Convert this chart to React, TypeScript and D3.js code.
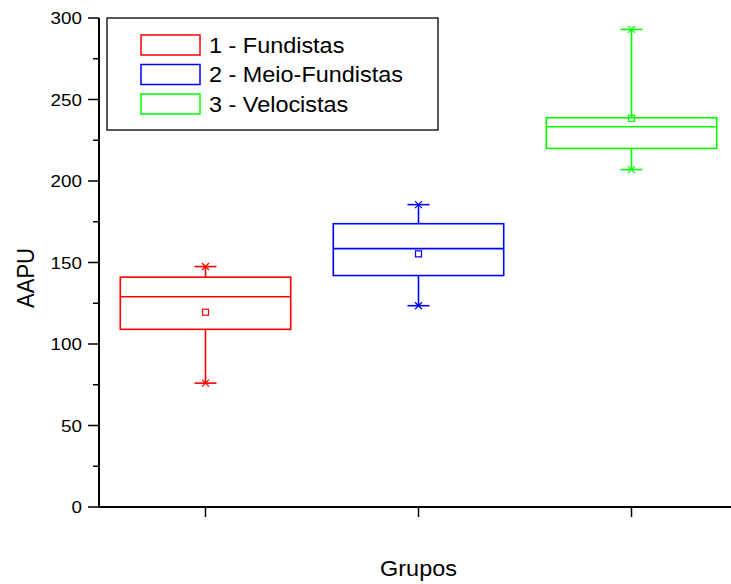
import React from "react";
import * as d3 from "d3";

const groups = ["1 - Fundistas", "2 - Meio-Fundistas", "3 - Velocistas"];
const colors = ["#ff0000", "#0000ff", "#00ff00"];
const q1 = [109, 142, 220];
const medians = [129, 158.5, 233.3];
const q3 = [141, 173.8, 238.8];
const means = [119.5, 155.3, 238.4];
const whiskerLow = [76, 123.5, 207];
const whiskerHigh = [147.5, 185.5, 293];
const yTicks = [0, 50, 100, 150, 200, 250, 300];
const yMinorTicks = [25, 75, 125, 175, 225, 275];

const W = 731;
const H = 584;
const font = "Arial, 'Liberation Sans', sans-serif";
const stretch = 1.09; // the source text is a bit wider than plain Arial

const Cross = ({ x, y, color }: { x: number; y: number; color: string }) => {
  const s = 3.5;
  return (
    <g stroke={color} strokeWidth={1.3}>
      <line x1={x - s} y1={y - s} x2={x + s} y2={y + s} />
      <line x1={x - s} y1={y + s} x2={x + s} y2={y - s} />
    </g>
  );
};

export default function App() {
  const x = d3.scaleLinear().domain([0.5, 3.5]).range([99, 738]);
  const y = d3.scaleLinear().domain([0, 300]).range([507, 18]);
  const step = x(2) - x(1);
  const half = step * 0.4;
  const cap = 11;

  return (
    <svg
      width={W}
      height={H}
      style={{ position: "absolute", left: 0, top: 0, background: "#fff" }}
      fontFamily={font}
    >
      {/* boxes */}
      {groups.map((g, i) => {
        const cx = x(i + 1);
        const c = colors[i];
        return (
          <g key={g} stroke={c} fill="none" strokeWidth={1.6}>
            <line x1={cx} x2={cx} y1={y(whiskerHigh[i])} y2={y(q3[i])} />
            <line x1={cx} x2={cx} y1={y(q1[i])} y2={y(whiskerLow[i])} />
            <line x1={cx - cap} x2={cx + cap} y1={y(whiskerHigh[i])} y2={y(whiskerHigh[i])} />
            <line x1={cx - cap} x2={cx + cap} y1={y(whiskerLow[i])} y2={y(whiskerLow[i])} />
            <Cross x={cx} y={y(whiskerHigh[i])} color={c} />
            <Cross x={cx} y={y(whiskerLow[i])} color={c} />
            <rect x={cx - half} y={y(q3[i])} width={half * 2} height={y(q1[i]) - y(q3[i])} />
            <line x1={cx - half} x2={cx + half} y1={y(medians[i])} y2={y(medians[i])} />
            <rect x={cx - 3} y={y(means[i]) - 3} width={6} height={6} strokeWidth={1.2} />
          </g>
        );
      })}

      {/* y axis */}
      <line x1={99} x2={99} y1={y(300)} y2={y(0)} stroke="#000" strokeWidth={2} />
      {yTicks.map((t) => (
        <g key={t}>
          <line x1={88} x2={99} y1={y(t)} y2={y(t)} stroke="#000" strokeWidth={1.5} />
          <text
            transform={`translate(82,${y(t)}) scale(${stretch},1)`}
            dy="0.35em"
            textAnchor="end"
            fontSize={17.3}
          >
            {t}
          </text>
        </g>
      ))}
      {yMinorTicks.map((t) => (
        <line key={t} x1={93} x2={99} y1={y(t)} y2={y(t)} stroke="#000" strokeWidth={1.5} />
      ))}

      {/* x axis */}
      <line x1={98} x2={W} y1={y(0)} y2={y(0)} stroke="#000" strokeWidth={2} />
      {groups.map((g, i) => (
        <line key={g} x1={x(i + 1)} x2={x(i + 1)} y1={y(0)} y2={y(0) + 10} stroke="#000" strokeWidth={1.5} />
      ))}

      <text
        transform={`translate(${x(2)},576) scale(${stretch},1)`}
        textAnchor="middle"
        fontSize={21.5}
      >
        Grupos
      </text>
      <text transform={`translate(34,278) rotate(-90) scale(1,${stretch})`} textAnchor="middle" fontSize={22}>
        AAPU
      </text>

      {/* legend */}
      <rect x={107} y={18} width={331} height={112} fill="#fff" stroke="#000" strokeWidth={1.3} />
      {groups.map((g, i) => (
        <g key={g} transform={`translate(0,${45 + i * 29.5})`}>
          <rect x={141} y={-10} width={59} height={20} fill="none" stroke={colors[i]} strokeWidth={1.5} />
          <text transform={`translate(209,0) scale(${stretch},1)`} dy="0.35em" fontSize={21.5}>
            {g}
          </text>
        </g>
      ))}
    </svg>
  );
}
